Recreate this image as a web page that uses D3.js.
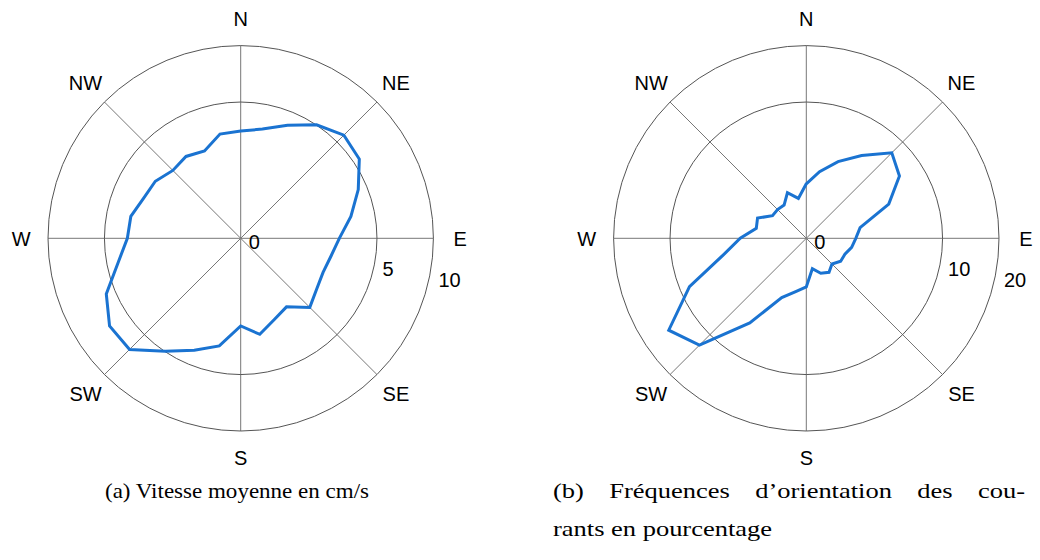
<!DOCTYPE html>
<meta charset="utf-8">
<head>
<style>
  body { margin: 0; background: #fff; }
  .grid circle { fill: none; stroke: #555; stroke-width: 1; }
  .grid line { stroke: #777; stroke-width: 1; }
  .compass, .rtick { font-family: "Liberation Sans", Arial, sans-serif; font-size: 20px; fill: #000; }
  .caption { font-family: "Liberation Serif", "Times New Roman", serif; font-size: 21px; fill: #000; }
</style>
</head>
<body>
<div id="chart"></div>
<script src="https://d3js.org/d3.v7.min.js"></script>
<script>
// directions, degrees clockwise from north
var directions = [0, 11.25, 22.5, 33.75, 45, 56.25, 67.5, 78.75, 90, 101.25, 112.5, 123.75,
                  135, 146.25, 157.5, 168.75, 180, 191.25, 202.5, 213.75, 225, 236.25, 247.5, 258.75,
                  270, 281.25, 292.5, 303.75, 315, 326.25, 337.5, 348.75];

// (a) mean speed, cm/s
var speed = [3.10, 3.34, 4.03, 5.02, 5.73, 5.48, 4.36, 3.40, 2.62, 2.28, 2.14, 2.25,
             2.57, 1.83, 2.08, 2.58, 2.07, 3.24, 3.96, 4.97, 6.65, 6.70, 5.70, 4.21,
             3.46, 3.38, 2.97, 2.84, 2.48, 2.61, 2.41, 3.04];

// (b) orientation frequency, %
var frequency = [1.60, 2.49, 3.71, 5.34, 7.87, 6.76, 4.29, 1.62, 1.32, 1.15, 0.94, 0.92,
                 0.71, 0.90, 0.77, 0.52, 1.27, 1.59, 2.22, 5.58, 12.31, 14.74, 8.61, 3.85,
                 2.35, 1.40, 1.50, 0.89, 0.89, 0.86, 1.31, 0.89];

var compassNames = ["N", "NE", "E", "SE", "S", "SW", "W", "NW"];
var compassAngles = [0, 45, 90, 135, 180, 225, 270, 315];

var ticksA = [0, 5, 10];
var ticksB = [0, 10, 20];

var width = 1040, height = 560;
var svg = d3.select("#chart").append("svg")
    .attr("width", width)
    .attr("height", height);

var drawRose = function(cx, cy, values, ticks) {
  var R = 192.7;
  var r = d3.scaleSqrt().domain([0, ticks[2]]).range([0, R]);
  var g = svg.append("g").attr("transform", "translate(" + cx + "," + cy + ")");

  var grid = g.append("g").attr("class", "grid");
  grid.selectAll("line")
    .data(compassAngles)
    .enter().append("line")
      .attr("x1", 0).attr("y1", 0)
      .attr("x2", function(d) { return R * Math.sin(d * Math.PI / 180); })
      .attr("y2", function(d) { return -R * Math.cos(d * Math.PI / 180); });
  grid.selectAll("circle")
    .data(ticks.slice(1))
    .enter().append("circle")
      .attr("r", function(d) { return r(d); });

  // compass labels
  g.selectAll(".compass")
    .data(compassNames)
    .enter().append("text")
      .attr("class", "compass")
      .attr("text-anchor", "middle")
      .attr("dy", "0.36em")
      .attr("x", function(d, i) { return 219.5 * Math.sin(compassAngles[i] * Math.PI / 180); })
      .attr("y", function(d, i) { return -219.5 * Math.cos(compassAngles[i] * Math.PI / 180); })
      .text(function(d) { return d; });

  // radial tick labels
  g.selectAll(".rtick")
    .data(ticks)
    .enter().append("text")
      .attr("class", "rtick")
      .attr("x", function(d) { return d == 0 ? 8 : r(d) + (d == ticks[1] ? 5.5 : 5); })
      .attr("y", function(d, i) { return [11, 38, 49][i]; })
      .text(function(d) { return d; });

  var line = d3.lineRadial()
    .angle(function(d, i) { return directions[i] * Math.PI / 180; })
    .radius(function(d) { return r(d); })
    .curve(d3.curveLinearClosed);

  g.append("path")
    .attr("d", line(values))
    .attr("fill", "none")
    .attr("stroke", "#1a73d1")
    .attr("stroke-width", 3)
    .attr("stroke-linejoin", "miter");
};

drawRose(240.7, 238.3, speed, ticksA);
drawRose(806.3, 238.3, frequency, ticksB);

// captions
svg.append("text").attr("class", "caption")
  .attr("x", 105).attr("y", 498)
  .attr("textLength", 264).attr("lengthAdjust", "spacingAndGlyphs")
  .text("(a)  Vitesse moyenne en cm/s");

// caption (b), second line sets the widening factor for the first one
var capB2 = svg.append("text").attr("class", "caption")
  .attr("x", 553).attr("y", 536)
  .text("rants en pourcentage");
var k = 219 / capB2.node().getComputedTextLength();
capB2.attr("textLength", 219).attr("lengthAdjust", "spacingAndGlyphs");

// justified first line: words spread between 553 and 1025
var words = ["(b)", "Fréquences", "d\u2019orientation", "des", "cou-"];
var wordNodes = words.map(function(w) {
  return svg.append("text").attr("class", "caption").attr("y", 498).text(w);
});
var widths = wordNodes.map(function(t) { return t.node().getComputedTextLength() * k; });
var gap = (472 - d3.sum(widths)) / (words.length - 1);
var wx = 553;
wordNodes.forEach(function(t, i) {
  t.attr("x", wx).attr("textLength", widths[i]).attr("lengthAdjust", "spacingAndGlyphs");
  wx += widths[i] + gap;
});
</script>
</body>
